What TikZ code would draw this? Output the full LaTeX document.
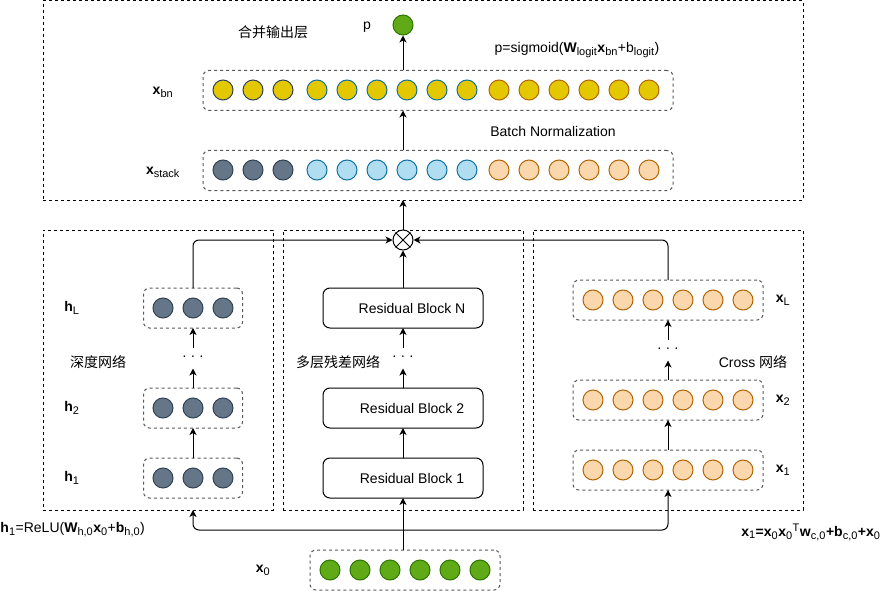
\documentclass[tikz,border=0pt]{standalone}
\usepackage{fontspec}
\setmainfont{Liberation Sans}
\newfontfamily\cjk{Noto Sans CJK SC}
\usepackage{xcolor}
\usetikzlibrary{arrows.meta}
\DeclareMathSizes{14}{14}{11}{8}
\definecolor{slateF}{HTML}{647687}
\definecolor{slateD}{HTML}{314354}
\definecolor{blueF}{HTML}{B1DDF0}
\definecolor{blueD}{HTML}{10739E}
\definecolor{orangeF}{HTML}{FAD7AC}
\definecolor{orangeD}{HTML}{B46504}
\definecolor{yellowF}{HTML}{E3C800}
\definecolor{greenF}{HTML}{60A917}
\definecolor{greenD}{HTML}{2D7600}

\begin{document}
\begin{tikzpicture}[x=1pt,y=-1pt,line width=1pt,
    font=\fontsize{14}{17}\selectfont,
    unit/.style={circle,draw,minimum size=20pt,inner sep=0pt},
    slatedot/.style={unit,fill=slateF,draw=slateD},
    bluedot/.style={unit,fill=blueF,draw=blueD},
    orangedot/.style={unit,fill=orangeF,draw=orangeD},
    greendot/.style={unit,fill=greenF,draw=greenD},
    vecbox/.style={draw=black!65,dashed,rounded corners=6pt,
        minimum height=40pt,outer sep=0pt},
    panel/.style={draw,dashed,outer sep=0pt},
    resblock/.style={draw,rounded corners=7pt,minimum width=160pt,
        minimum height=40pt,outer sep=0pt},
    dots/.style={minimum height=20pt,inner sep=0pt},
    arr/.style={-{Stealth[length=7pt,width=7pt,inset=2pt]}},
    ]
    \useasboundingbox (0,0) rectangle (881,591);
    % panels
    \node[panel,minimum width=760pt,minimum height=199pt] (top) at (423,100.5) {};
    \node[panel,minimum width=230pt,minimum height=280pt] (deep) at (158,370) {};
    \node[panel,minimum width=240pt,minimum height=280pt] (resnet) at (403,370) {};
    \node[panel,minimum width=270pt,minimum height=280pt] (cross) at (668,370) {};

    % output layer
    \node[vecbox,minimum width=470pt] (bn) at (438,90.5) {};
    \node[vecbox,minimum width=470pt] (stack) at (438,170.5) {};
    \foreach \x [count=\i] in {223,253,283} {
        \node[slatedot] (s\i) at (\x,170) {};
        \node[unit,fill=yellowF,draw=slateD] (b\i) at (\x,90) {};
    }
    \foreach \x [count=\i from 4] in {317,347,377,407,437,467} {
        \node[bluedot] (s\i) at (\x,170) {};
        \node[unit,fill=yellowF,draw=blueD] (b\i) at (\x,90) {};
    }
    \foreach \x [count=\i from 10] in {499,529,559,589,619,649} {
        \node[orangedot] (s\i) at (\x,170) {};
        \node[unit,fill=yellowF,draw=orangeD] (b\i) at (\x,90) {};
    }
    \node[greendot] (pout) at (403,25) {};
    \node (ptext) at (367,27) {p};
    \node (outtitle) at (273,32) {\cjk 合并输出层};
    \node (sigm) at (577,50) {p=sigmoid(\textbf{W}\textsubscript{logit}\textbf{x}\textsubscript{bn}+b\textsubscript{logit})};
    \node (bnlabel) at (553,131) {Batch Normalization};
    \node (xbn) at (163,92) {\textbf{x}\textsubscript{bn}};
    \node (xstack) at (163,172) {\textbf{x}\textsubscript{stack}};
    \draw[arr] (stack.north -| pout) -- (bn.south -| pout);
    \draw[arr] (bn.north -| pout) -- (pout);

    \node[unit,fill=white] (otimes) at (403,240) {};
    \draw[line width=0.8pt] (otimes.north west) -- (otimes.south east)
        (otimes.north east) -- (otimes.south west);
    \draw[arr] (otimes) -- (otimes |- top.south);

    % deep network
    \foreach \y/\n in {308/hL,408/h2,478/h1} {
        \node[vecbox,minimum width=99pt] (\n) at (193,\y) {};
        \foreach \x [count=\k] in {163,193,223}
            \node[slatedot] (\n\k) at (\x,\y) {};
    }
    \node[dots] (hdots) at (193,358) {· · ·};
    \node (hLlab) at (72,308) {\textbf{h}\textsubscript{L}};
    \node (h2lab) at (72,408) {\textbf{h}\textsubscript{2}};
    \node (h1lab) at (72,478) {\textbf{h}\textsubscript{1}};
    \node (deeptitle) at (98,362) {\cjk 深度网络};
    \draw[arr] (h1) -- (h2);
    \draw[arr] (h2) -- (hdots);
    \draw[arr] (hdots) -- (hL);
    \draw[arr,rounded corners=6pt] (hL) |- (otimes);

    % residual network
    \node[resblock] (rb1) at (403,478) {\hspace*{18pt}Residual Block 1};
    \node[resblock] (rb2) at (403,408) {\hspace*{18pt}Residual Block 2};
    \node[resblock] (rbN) at (403,308) {\hspace*{18pt}Residual Block N};
    \node[dots] (rdots) at (403,358) {· · ·};
    \node (restitle) at (338,362) {\cjk 多层残差网络};
    \draw[arr] (rb1) -- (rb2);
    \draw[arr] (rb2) -- (rdots);
    \draw[arr] (rdots) -- (rbN);
    \draw[arr] (rbN) -- (otimes);

    % cross network
    \foreach \y/\n in {300/xL,400/x2,470/x1} {
        \node[vecbox,minimum width=190pt] (\n) at (668,\y) {};
        \foreach \x [count=\k] in {593,623,653,683,713,743}
            \node[orangedot] (\n\k) at (\x,\y) {};
    }
    \node[dots] (cdots) at (668,350) {· · ·};
    \node (xLlab) at (783,300) {\textbf{x}\textsubscript{L}};
    \node (x2lab) at (783,400) {\textbf{x}\textsubscript{2}};
    \node (x1lab) at (783,470) {\textbf{x}\textsubscript{1}};
    \node (crosstitle) at (753,362) {Cross {\cjk 网络}};
    \draw[arr] (x1) -- (x2);
    \draw[arr] (x2) -- (cdots);
    \draw[arr] (cdots) -- (xL);
    \draw[arr,rounded corners=6pt] (xL) |- (otimes);

    % input
    \node[vecbox,minimum width=190pt] (x0) at (405,570) {};
    \foreach \x [count=\k] in {330,360,390,420,450,480}
        \node[greendot] (x0\k) at (\x,570) {};
    \node (x0lab) at (263,570) {\textbf{x}\textsubscript{0}};
    \coordinate (split) at (403,530);
    \draw[arr] (x0.north -| rb1) -- (rb1);
    \draw[arr,rounded corners=6pt] (split) -| (deep.south -| h1);
    \draw[arr,rounded corners=6pt] (split) -| (x1);
    \node[anchor=west,inner sep=0pt] (hform) at (0,530)
        {\textbf{h}\textsubscript{1}=ReLU(\textbf{W}\textsubscript{h,0}\textbf{x}\textsubscript{0}+\textbf{b}\textsubscript{h,0})};
    \node[anchor=east,inner sep=0pt] (xform) at (881,532)
        {\textbf{x}\textsubscript{1}\textbf{=x}\textsubscript{0}\textbf{x}\textsubscript{0}\textsuperscript{T}\textbf{w}\textsubscript{c,0}\textbf{+b}\textsubscript{c,0}\textbf{+x}\textsubscript{0}};
\end{tikzpicture}
\end{document}
